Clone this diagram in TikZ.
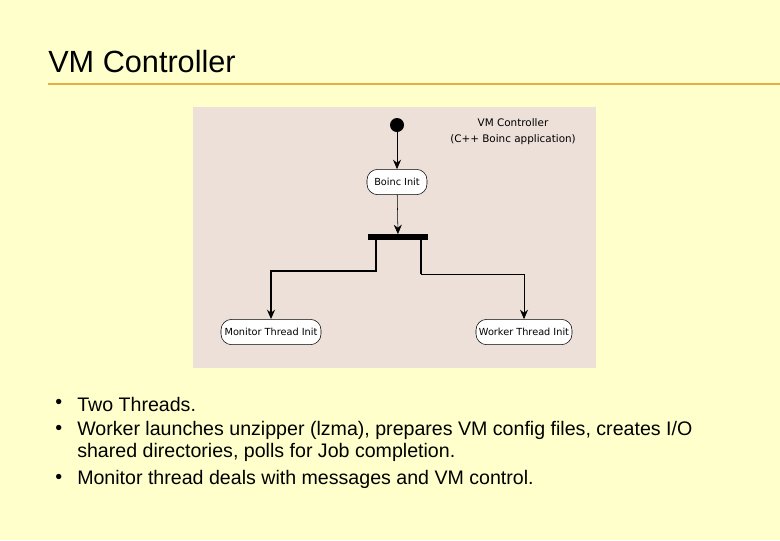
\documentclass[tikz,border=0pt]{standalone}
\usepackage{fontspec}
\setmainfont{Liberation Sans}
\newfontfamily\diagfont{DejaVu Sans}
\usetikzlibrary{arrows.meta}
\definecolor{slidebg}{HTML}{FFFFCC}
\definecolor{panelbg}{HTML}{ECE0D9}
\definecolor{ruleline}{HTML}{E0B040}
\begin{document}
\begin{tikzpicture}[x=0.75pt,y=-0.75pt,
    act/.style={draw, rounded corners=8pt, fill=white, minimum height=19pt, font=\diagfont\fontsize{7.3}{8}\selectfont, inner sep=2pt},
    flow/.style={-{Stealth[length=7pt,width=6pt]}},
    bullet/.style={anchor=west, font=\fontsize{14.7}{16.5}\selectfont, align=left, inner sep=0pt}]
    \fill[slidebg] (0,0) rectangle (780,540);
    \useasboundingbox (0,0) rectangle (780,540);
    \node[anchor=west, font=\fontsize{23}{26}\selectfont, inner sep=0pt] (title) at (48,62) {VM Controller};
    \draw[ruleline, line width=1pt] (48,84) -- (780,84);
    \fill[panelbg] (193,107) rectangle (596,368);

    \node[align=center, font=\diagfont\fontsize{7.8}{12}\selectfont] (label) at (513,132) {VM Controller\\(C++ Boinc application)};
    \node[circle, fill=black, inner sep=0pt, minimum size=10.5pt] (start) at (397,125) {};
    \node[act, minimum width=45pt] (boinc) at (397,182) {Boinc Init};
    \node[fill=black, inner sep=0pt, minimum width=45pt, minimum height=4pt] (fork) at (398,237) {};
    \node[act, minimum width=75pt] (monitor) at (271,332) {Monitor Thread Init};
    \node[act, minimum width=72pt] (worker) at (524,332) {Worker Thread Init};

    \draw[flow] (start) -- (boinc);
    \draw[flow] (boinc) -- (fork);
    \draw[flow, line width=1.5pt] (fork.south west) ++(8,0) |- (271,271) -- (monitor);
    \draw[line width=1.5pt] (fork.south east) ++(-7,0) -- ++(0,34) coordinate (split);
    \draw[flow] (split) -| (worker);

    \foreach \y in {404,430,479} \node[bullet] at (55,\y) {\textbullet};
    \node[bullet] (b1) at (77,404) {Two Threads.};
    \node[bullet] (b2) at (77,441) {Worker launches unzipper (lzma), prepares VM config files, creates I/O\\shared directories, polls for Job completion.};
    \node[bullet] (b3) at (77,479) {Monitor thread deals with messages and VM control.};
\end{tikzpicture}
\end{document}
